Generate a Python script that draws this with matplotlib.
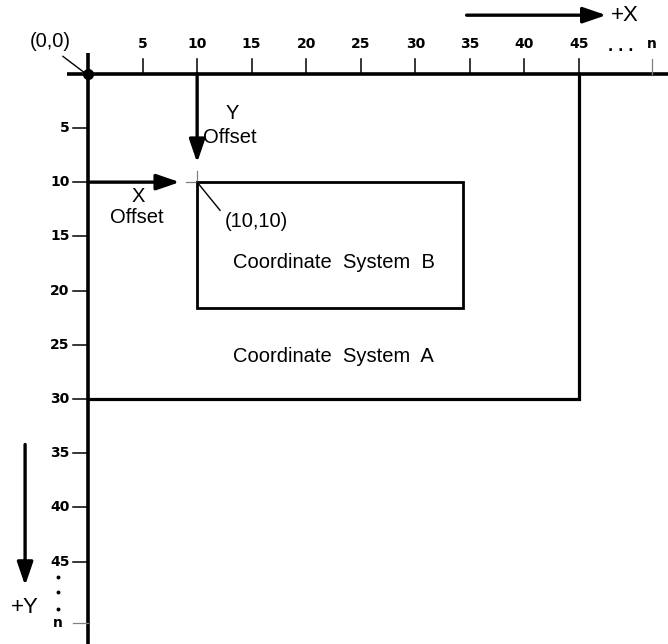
import matplotlib.pyplot as plt

# tick values along both axes
x_ticks = [5, 10, 15, 20, 25, 30, 35, 40, 45]
y_ticks = [5, 10, 15, 20, 25, 30, 35, 40, 45]
x_n_pos = 51.7
y_n_pos = 50.7

# coordinate systems (x0, y0, x1, y1)
box_a = (0, 0, 45, 30)
box_b = (10, 10, 34.4, 21.6)
offset = (10, 10)

TEXT = ["Liberation Sans", "DejaVu Sans"]
TICK = ["DejaVu Sans"]


def main():
    fig = plt.figure(figsize=(6.68, 6.44), dpi=100)
    ax = fig.add_axes([0, 0, 1, 1])
    ax.set_xlim(-8.07, 53.16)
    ax.set_ylim(52.6, -6.8)
    ax.axis("off")

    # main axes
    ax.plot([-1.95, 53.2], [0, 0], color="black", lw=2.6, solid_capstyle="butt")
    ax.plot([0, 0], [-1.9, 52.6], color="black", lw=2.6, solid_capstyle="butt")
    ax.plot([0], [0], "o", color="black", ms=7)

    # x ticks and labels
    for v in x_ticks:
        ax.plot([v, v], [-1.4, 0], color="black", lw=1.1)
        ax.text(v, -2.7, str(v), ha="center", va="center", fontsize=10,
                fontweight="bold", family=TICK)
    ax.plot([x_n_pos, x_n_pos], [-1.4, 0], color="gray", lw=0.9)
    ax.text(x_n_pos, -2.7, "n", ha="center", va="center", fontsize=10,
            fontweight="bold", family=TICK)
    ax.text(48.8, -2.5, ". . .", ha="center", va="center", fontsize=10,
            fontweight="bold", family=TICK)

    # y ticks and labels
    for v in y_ticks:
        ax.plot([-1.4, 0], [v, v], color="black", lw=1.1)
        ax.text(-1.7, v, str(v), ha="right", va="center", fontsize=10,
                fontweight="bold", family=TICK)
    ax.plot([-1.4, 0], [y_n_pos, y_n_pos], color="gray", lw=0.9)
    ax.text(-2.75, y_n_pos, "n", ha="center", va="center", fontsize=10,
            fontweight="bold", family=TICK)
    ax.plot([-2.75, -2.75, -2.75], [46.4, 47.8, 49.4], "o", color="black", ms=1.8)

    # origin label
    ax.plot([-2.3, -0.4], [-1.6, -0.15], color="black", lw=1.0)
    ax.text(-3.5, -3.0, "(0,0)", ha="center", va="center", fontsize=14.5,
            family=TEXT)

    # direction arrows
    arrow = dict(arrowstyle="-|>,head_length=0.7,head_width=0.24", lw=2.4,
                 color="black", shrinkA=0, shrinkB=0, mutation_scale=20)
    ax.annotate("", xy=(47.5, -5.4), xytext=(34.7, -5.4), arrowprops=arrow)
    ax.text(47.9, -5.4, "+X", ha="left", va="center", fontsize=16, family=TEXT)
    ax.annotate("", xy=(-5.77, 47.2), xytext=(-5.77, 34.2), arrowprops=arrow)
    ax.text(-5.77, 49.2, "+Y", ha="center", va="center", fontsize=16, family=TEXT)

    # coordinate system A
    x0, y0, x1, y1 = box_a
    ax.plot([x1, x1, x0], [y0, y1, y1], color="black", lw=2.3,
            solid_joinstyle="miter")
    ax.text((x0 + x1) / 2, 26.1, "Coordinate  System  A", ha="center",
            va="center", fontsize=14.5, family=TEXT)

    # coordinate system B
    x0, y0, x1, y1 = box_b
    ax.plot([x0, x1, x1, x0, x0], [y0, y0, y1, y1, y0], color="black", lw=2.0,
            solid_joinstyle="miter")
    ax.text(22.5, 17.4, "Coordinate  System  B", ha="center", va="center",
            fontsize=14.5, family=TEXT)

    # offsets
    ox, oy = offset
    ax.annotate("", xy=(ox, 8.2), xytext=(ox, 0), arrowprops=arrow)
    ax.annotate("", xy=(8.4, oy), xytext=(0, oy), arrowprops=arrow)
    ax.plot([ox - 1.0, ox], [oy, oy], color="gray", lw=0.9)
    ax.plot([ox, ox], [oy - 1.0, oy], color="gray", lw=0.9)
    ax.text(13.2, 3.7, "Y", ha="center", va="center", fontsize=14.5, family=TEXT)
    ax.text(13.0, 5.9, "Offset", ha="center", va="center", fontsize=14.5,
            family=TEXT)
    ax.text(4.6, 11.3, "X", ha="center", va="center", fontsize=14.5, family=TEXT)
    ax.text(4.5, 13.3, "Offset", ha="center", va="center", fontsize=14.5,
            family=TEXT)

    # offset point label
    ax.plot([ox, 12.1], [oy, 12.6], color="black", lw=1.0)
    ax.text(12.56, 13.6, "(10,10)", ha="left", va="center", fontsize=14.5,
            family=TEXT)

    fig.savefig("out.png", dpi=100)
    plt.close(fig)


if __name__ == "__main__":
    main()
